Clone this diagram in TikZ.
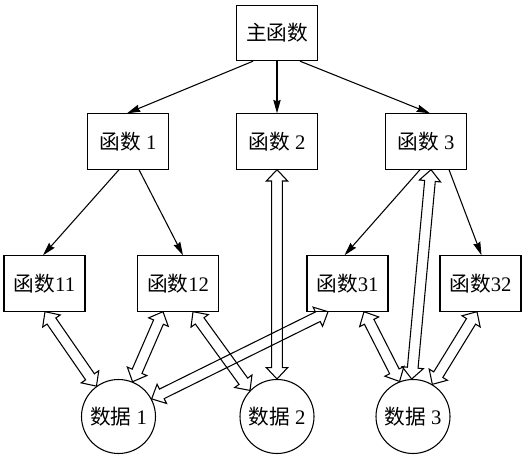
\documentclass[tikz,border=0pt]{standalone}
\usepackage{fontspec}
\setmainfont{Liberation Serif}
\newfontfamily\cjk{Noto Sans CJK SC}
\usetikzlibrary{arrows.meta,calc}

\tikzset{
  func/.style={draw, line width=0.8pt, minimum width=60.75pt, minimum height=41.5pt, inner sep=0pt},
  data/.style={draw, circle, line width=0.8pt, minimum size=55.5pt, inner sep=0pt},
  call/.style={line width=0.8pt, -{Stealth[length=10pt,width=5.5pt,inset=1pt]}},
  flow/.style={draw, line width=0.8pt, line join=miter, to path={
    let \p1=(\tikztostart), \p2=(\tikztotarget), \n1={atan2(\y2-\y1,\x2-\x1)} in
    -- ($(\p1)+(\n1:8.5pt)+({\n1+90}:8pt)$)
    -- ($(\p1)+(\n1:8.5pt)+({\n1+90}:4pt)$)
    -- ($(\p2)+({\n1+180}:8.5pt)+({\n1+90}:4pt)$)
    -- ($(\p2)+({\n1+180}:8.5pt)+({\n1+90}:8pt)$)
    -- (\p2)
    -- ($(\p2)+({\n1+180}:8.5pt)+({\n1-90}:8pt)$)
    -- ($(\p2)+({\n1+180}:8.5pt)+({\n1-90}:4pt)$)
    -- ($(\p1)+(\n1:8.5pt)+({\n1-90}:4pt)$)
    -- ($(\p1)+(\n1:8.5pt)+({\n1-90}:8pt)$)
    -- cycle}}
}

\begin{document}
\begin{tikzpicture}[x=0.75pt, y=0.75pt, every node/.style={font=\fontsize{15.5}{18}\selectfont}]
  \useasboundingbox (0,0) rectangle (528,457);

  % Functions
  \node[func] (main) at (277,424) {{\cjk 主函数}};
  \node[func] (f1) at (128,315.5) {{\cjk 函数} 1};
  \node[func] (f2) at (277,315.5) {{\cjk 函数} 2};
  \node[func] (f3) at (426,315.5) {{\cjk 函数} 3};
  \node[func] (f11) at (44.5,173.5) {{\cjk 函数}11};
  \node[func] (f12) at (178,173.5) {{\cjk 函数}12};
  \node[func] (f31) at (347.5,173.5) {{\cjk 函数}31};
  \node[func] (f32) at (480.5,173.5) {{\cjk 函数}32};

  % Data
  \node[data] (d1) at (118.5,40.5) {{\cjk 数据} 1};
  \node[data] (d2) at (277,40.5) {{\cjk 数据} 2};
  \node[data] (d3) at (413,40.5) {{\cjk 数据} 3};

  % Calls
  \draw[call] ($(main.south)+(-24,0)$) -- ($(f1.north)+(-1,0)$);
  \draw[call] (main.south) -- (f2.north);
  \draw[call] ($(main.south)+(23,0)$) -- ($(f3.north)+(4,0)$);
  \draw[call] ($(f1.south)+(-9,0)$) -- ($(f11.north)+(-1.5,0)$);
  \draw[call] ($(f1.south)+(11,0)$) -- ($(f12.north)+(5,0)$);
  \draw[call] ($(f3.south)+(-6,0)$) -- ($(f31.north)+(-3,0)$);
  \draw[call] ($(f3.south)+(23,0)$) -- ($(f32.north)+(1,0)$);

  % Data flow
  \draw[flow] ($(f11.south)+(0.5,0)$) to (d1.126);
  \draw[flow] ($(f12.south)+(-15,0)$) to (d1.68);
  \draw[flow] ($(f12.south)+(15,0)$) to (d2.136);
  \draw[flow] ($(f31.south)+(-19.5,0)$) to (d1.28);
  \draw[flow] (f2.south) to (d2.north);
  \draw[flow] ($(f3.south)+(5,0)$) to (d3.92);
  \draw[flow] ($(f31.south)+(16.5,0)$) to (d3.111);
  \draw[flow] ($(f32.south)+(-3.5,0)$) to (d3.59);
\end{tikzpicture}
\end{document}
